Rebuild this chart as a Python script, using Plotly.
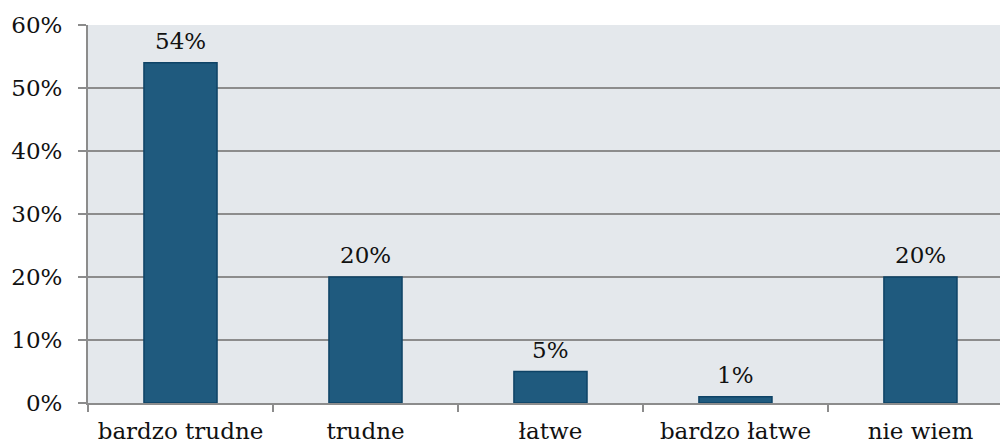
import plotly.graph_objects as go

categories = ["bardzo trudne", "trudne", "łatwe", "bardzo łatwe", "nie wiem"]
values = [0.54, 0.20, 0.05, 0.01, 0.20]
labels = ["54%", "20%", "5%", "1%", "20%"]

font = dict(family="DejaVu Serif", size=23, color="#111111")

fig = go.Figure(go.Bar(
    x=categories,
    y=values,
    width=0.395,
    marker=dict(color="#1f5a7e", line=dict(color="#0e4366", width=1.5)),
))

# value labels above the bars
for cat, val, lab in zip(categories, values, labels):
    fig.add_annotation(x=cat, y=val, text=lab, showarrow=False,
                       yanchor="bottom", yshift=7, font=font)

fig.update_layout(
    width=1000, height=445,
    margin=dict(l=88, r=0, t=25, b=42),
    paper_bgcolor="white",
    plot_bgcolor="#e4e8ec",
    font=font,
    showlegend=False,
)
fig.update_xaxes(
    range=[-0.5, 4.43],
    automargin=False,
    tickson="boundaries",
    ticks="outside", ticklen=7, tickcolor="#8c8c8c", tickwidth=2,
    showline=True, linecolor="#8c8c8c", linewidth=2,
    showgrid=False,
    ticklabelstandoff=6,
)
fig.update_yaxes(
    range=[0, 0.6], dtick=0.1, tickformat=".0%",
    automargin=False,
    ticks="outside", ticklen=8, tickcolor="#8c8c8c", tickwidth=2,
    showline=True, linecolor="#8c8c8c", linewidth=2,
    showgrid=True, gridcolor="#8c8c8c", gridwidth=2,
    zeroline=False,
    ticklabelstandoff=11,
)

fig.write_html("out.html", config={"displayModeBar": False},
               post_script="document.body.style.margin='0';")
